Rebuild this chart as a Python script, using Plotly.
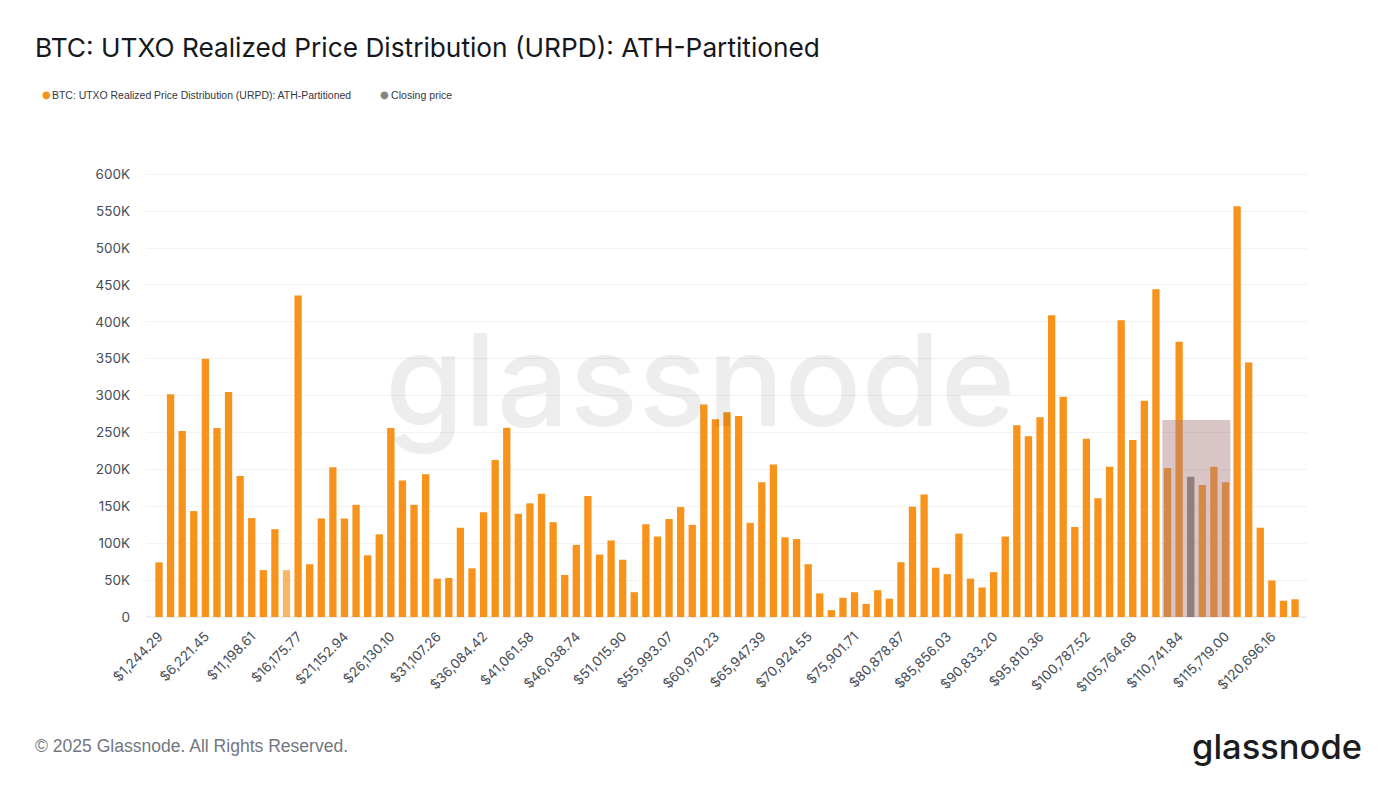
import plotly.graph_objects as go

TITLE = "BTC: UTXO Realized Price Distribution (URPD): ATH-Partitioned"
ORANGE = "#f7931a"
GREY = "#7d7d7d"
TICK_COLOR = "#474d57"

price_bins = [
    "$1,244.29", "$2,488.58", "$3,732.87", "$4,977.16", "$6,221.45", "$7,465.74", "$8,710.03", "$9,954.32",
    "$11,198.61", "$12,442.90", "$13,687.19", "$14,931.48", "$16,175.77", "$17,420.06", "$18,664.35", "$19,908.64",
    "$21,152.94", "$22,397.23", "$23,641.52", "$24,885.81", "$26,130.10", "$27,374.39", "$28,618.68", "$29,862.97",
    "$31,107.26", "$32,351.55", "$33,595.84", "$34,840.13", "$36,084.42", "$37,328.71", "$38,573.00", "$39,817.29",
    "$41,061.58", "$42,305.87", "$43,550.16", "$44,794.45", "$46,038.74", "$47,283.03", "$48,527.32", "$49,771.61",
    "$51,015.90", "$52,260.19", "$53,504.48", "$54,748.77", "$55,993.07", "$57,237.35", "$58,481.64", "$59,725.93",
    "$60,970.23", "$62,214.52", "$63,458.81", "$64,703.10", "$65,947.39", "$67,191.68", "$68,435.97", "$69,680.26",
    "$70,924.55", "$72,168.84", "$73,413.13", "$74,657.42", "$75,901.71", "$77,146.00", "$78,390.29", "$79,634.58",
    "$80,878.87", "$82,123.16", "$83,367.45", "$84,611.74", "$85,856.03", "$87,100.32", "$88,344.61", "$89,588.90",
    "$90,833.20", "$92,077.49", "$93,321.78", "$94,566.07", "$95,810.36", "$97,054.65", "$98,298.94", "$99,543.23",
    "$100,787.52", "$102,031.81", "$103,276.10", "$104,520.39", "$105,764.68", "$107,008.97", "$108,253.26", "$109,497.55",
    "$110,741.84", "$111,986.13", "$113,230.42", "$114,474.71", "$115,719.00", "$116,963.29", "$118,207.58", "$119,451.87",
    "$120,696.16", "$121,940.45", "$123,184.74",
]

# supply per bin, in BTC
supply = [
    74000, 302000, 252000, 143500, 350000, 256000, 305000, 191000,
    134000, 63500, 119000, 63500, 435500, 71500, 133600, 203000,
    133600, 152000, 83600, 112000, 256000, 185000, 152000, 193500,
    52000, 53000, 121000, 66000, 142000, 212600, 256500, 140000,
    154000, 167000, 128500, 57000, 97700, 164000, 84600, 103700,
    77600, 33600, 125700, 109000, 132700, 149000, 124800, 288000,
    268000, 277600, 272400, 127600, 182700, 206500, 108000, 105600,
    71500, 32000, 9300, 26000, 33600, 17800, 36400, 24800,
    74300, 149500, 166000, 66800, 58000, 113000, 52000, 40000,
    60700, 109000, 260000, 245000, 270600, 409000, 298600, 122000,
    241600, 161000, 203700, 402000, 240000, 293000, 444000, 202000,
    373000, None, 179000, 203700, 182700, 556600, 345000, 121000,
    49500, 22000, 24000,
]

closing_bin = ["$111,986.13"]
closing_supply = [190000]

y_ticks = [0, 50000, 100000, 150000, 200000, 250000, 300000, 350000, 400000, 450000, 500000, 550000, 600000]
y_labels = ["0", "50K", "100K", "150K", "200K", "250K", "300K", "350K", "400K", "450K", "500K", "550K", "600K"]

# the one faded bar at $14,931.48
bar_opacity = [0.68 if b == "$14,931.48" else 1 for b in price_bins]

PLOT_LEFT, PLOT_WIDTH = 146, 1161
PLOT_BOTTOM, PLOT_HEIGHT = 617, 445


def _px(x):
    return (x - PLOT_LEFT) / PLOT_WIDTH


def _py(y):
    return (PLOT_BOTTOM - y) / PLOT_HEIGHT


def _note(x, y, text, anchor, family, size, color, weight=None):
    fig.add_annotation(xref="paper", yref="paper", x=_px(x), y=_py(y),
                       xanchor=anchor, yanchor="middle", showarrow=False, text=text,
                       font=dict(family=family, size=size, color=color, weight=weight))


fig = go.Figure()
fig.add_trace(go.Bar(x=price_bins, y=supply, name=TITLE,
                     marker=dict(color=ORANGE, opacity=bar_opacity, line_width=0)))
fig.add_trace(go.Bar(x=closing_bin, y=closing_supply, name="Closing price",
                     marker=dict(color=GREY, line_width=0)))

fig.update_layout(
    width=1400,
    height=787,
    margin=dict(l=PLOT_LEFT, r=93, t=172, b=170),
    paper_bgcolor="white",
    plot_bgcolor="white",
    barmode="overlay",
    bargap=0.37,
    showlegend=False,
    title=dict(text=TITLE, x=35 / 1400, xanchor="left", xref="container",
               y=1 - 48 / 787, yanchor="middle", yref="container",
               font=dict(family="Inter", size=26.25, color="#15181c")),
    font=dict(family="Inter", color=TICK_COLOR),
)

fig.update_xaxes(
    type="category",
    categoryorder="array",
    categoryarray=price_bins,
    dtick=4,
    range=[-1.12, 99.03],
    tickangle=-45,
    ticklabelstandoff=8,
    tickfont=dict(family="Inter", size=13.5, color=TICK_COLOR),
    showgrid=False,
    showline=False,
    ticks="",
)
# range runs a little past 600K, plotly drops a gridline sitting right on the plot edge
fig.update_yaxes(
    range=[0, 603000],
    tickmode="array",
    tickvals=y_ticks,
    ticktext=y_labels,
    ticklabelstandoff=15,
    tickfont=dict(family="Inter", size=13.5, color=TICK_COLOR),
    gridcolor="#f1f2f4",
    gridwidth=1,
    zeroline=True,
    zerolinecolor="#eceef1",
    ticks="",
)

# highlighted range around the closing price
fig.add_shape(type="rect", xref="x", yref="y", x0=86.55, x1=92.42, y0=0, y1=267000,
              fillcolor="rgba(171,124,129,0.45)", line_width=0, layer="above")

# legend row: dots sit right up against the text, closer than plotly's legend allows
_note(39.5, 94.5, "●", "left", "DejaVu Sans", 10, ORANGE)
_note(50, 95, TITLE, "left", "Liberation Sans", 10.45, "#33373d")
_note(377.5, 94.5, "●", "left", "DejaVu Sans", 10, "#858585")
_note(389, 95, "Closing price", "left", "Liberation Sans", 10.6, "#33373d")

# watermark
_note(700, 379, "glassnode", "center", "Inter", 128, "rgba(0,0,0,0.07)", weight=500)

# footer
_note(33, 746, "© 2025 Glassnode. All Rights Reserved.", "left", "Liberation Sans", 17.55, "#72777f")
_note(1364, 746, "glassnode", "right", "Inter", 34.5, "#1b1d20", weight=500)

fig.write_html("out.html", config=dict(displayModeBar=False),
               post_script="document.body.style.margin='0';")
